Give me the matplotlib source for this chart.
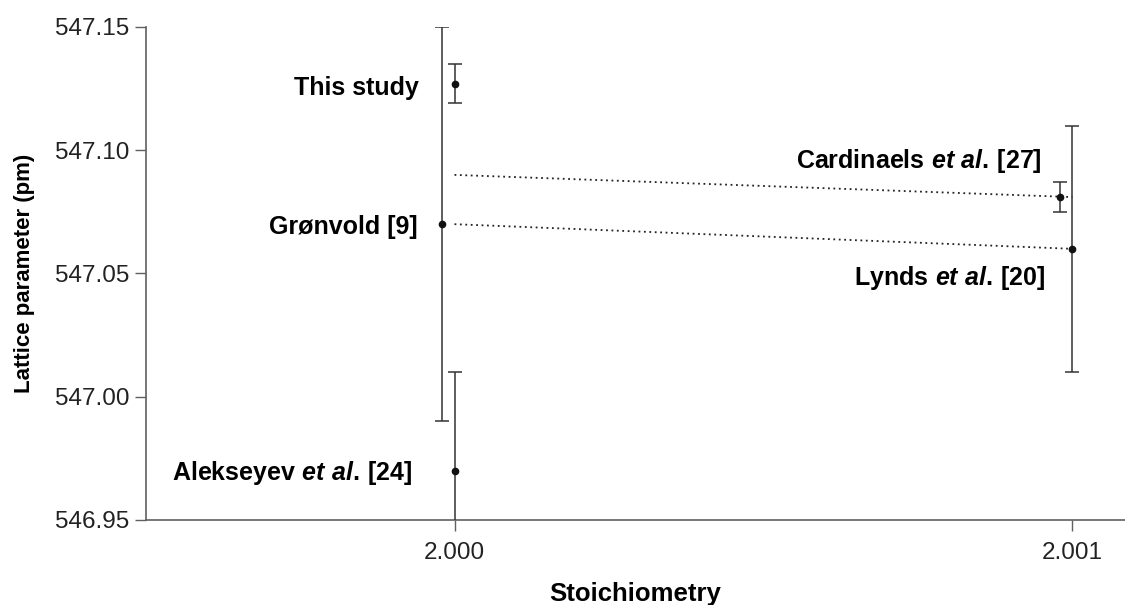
import numpy as np
import matplotlib
matplotlib.use("Agg")
import matplotlib.pyplot as plt

plt.rcParams['font.family'] = ['Liberation Sans', 'DejaVu Sans']
plt.rcParams['mathtext.fontset'] = 'custom'
plt.rcParams['mathtext.it'] = 'Liberation Sans:italic:bold'
plt.rcParams['mathtext.rm'] = 'Liberation Sans:bold'

# data: stoichiometry, lattice parameter (pm), error
names = ['This study', 'Grønvold [9]',
         r'$\mathrm{Alekseyev}\ et\ al.\,\mathrm{[24]}$',
         r'$\mathrm{Cardinaels}\ et\ al.\,\mathrm{[27]}$',
         r'$\mathrm{Lynds}\ et\ al.\,\mathrm{[20]}$']
stoich = [2.0, 1.99998, 2.0, 2.00098, 2.001]
lattice = [547.127, 547.07, 546.97, 547.081, 547.06]
err = [0.008, 0.08, 0.04, 0.006, 0.05]

# label offsets in pixels (right end / baseline relative to the point)
lab_dx = [-36, -25, -42, -18, -27]
lab_dy = [-11, -10, -9, 29, -36]

# dotted trend lines
trend_x = [2.0, 2.001]
trend_upper = [547.09, 547.081]
trend_lower = [547.07, 547.06]

fig = plt.figure(figsize=(11.25, 6.05), dpi=100)
ax = fig.add_axes([0.1298, 0.1405, 0.8702, 0.8149])

ax.plot(trend_x, trend_upper, color='#222222', lw=1.3, dashes=(1, 2))
ax.plot(trend_x, trend_lower, color='#222222', lw=1.3, dashes=(1, 2))

ax.errorbar(stoich, lattice, yerr=err, fmt='o', color='#111111', ms=4.5,
            ecolor='#333333', elinewidth=1.1, capsize=5, capthick=1.1, zorder=3)

for i in range(len(names)):
    ax.annotate(names[i], (stoich[i], lattice[i]), xytext=(lab_dx[i], lab_dy[i]),
                textcoords='offset pixels', ha='right', va='baseline',
                fontsize=18, fontweight='bold', color='black')

ax.set_xlim(1.9995008, 2.001085)
ax.set_ylim(546.95, 547.15)
ax.set_xticks([2.0, 2.001])
ax.set_xticklabels(['2.000', '2.001'])
ax.set_yticks([546.95, 547.0, 547.05, 547.1, 547.15])
ax.set_yticklabels(['546.95', '547.00', '547.05', '547.10', '547.15'])

for s in ['top', 'right']:
    ax.spines[s].set_visible(False)
for s in ['left', 'bottom']:
    ax.spines[s].set_color('#606060')
    ax.spines[s].set_linewidth(1.2)
ax.tick_params(length=8, width=1, color='#606060', labelsize=17.5,
               labelcolor='#222222', pad=4)
ax.tick_params(axis='x', pad=8)

ax.set_xlabel('Stoichiometry', fontsize=18.5, fontweight='bold', labelpad=13)
ax.set_ylabel('Lattice parameter (pm)', fontsize=16, fontweight='bold', labelpad=14)

fig.savefig('out.png', dpi=100)
